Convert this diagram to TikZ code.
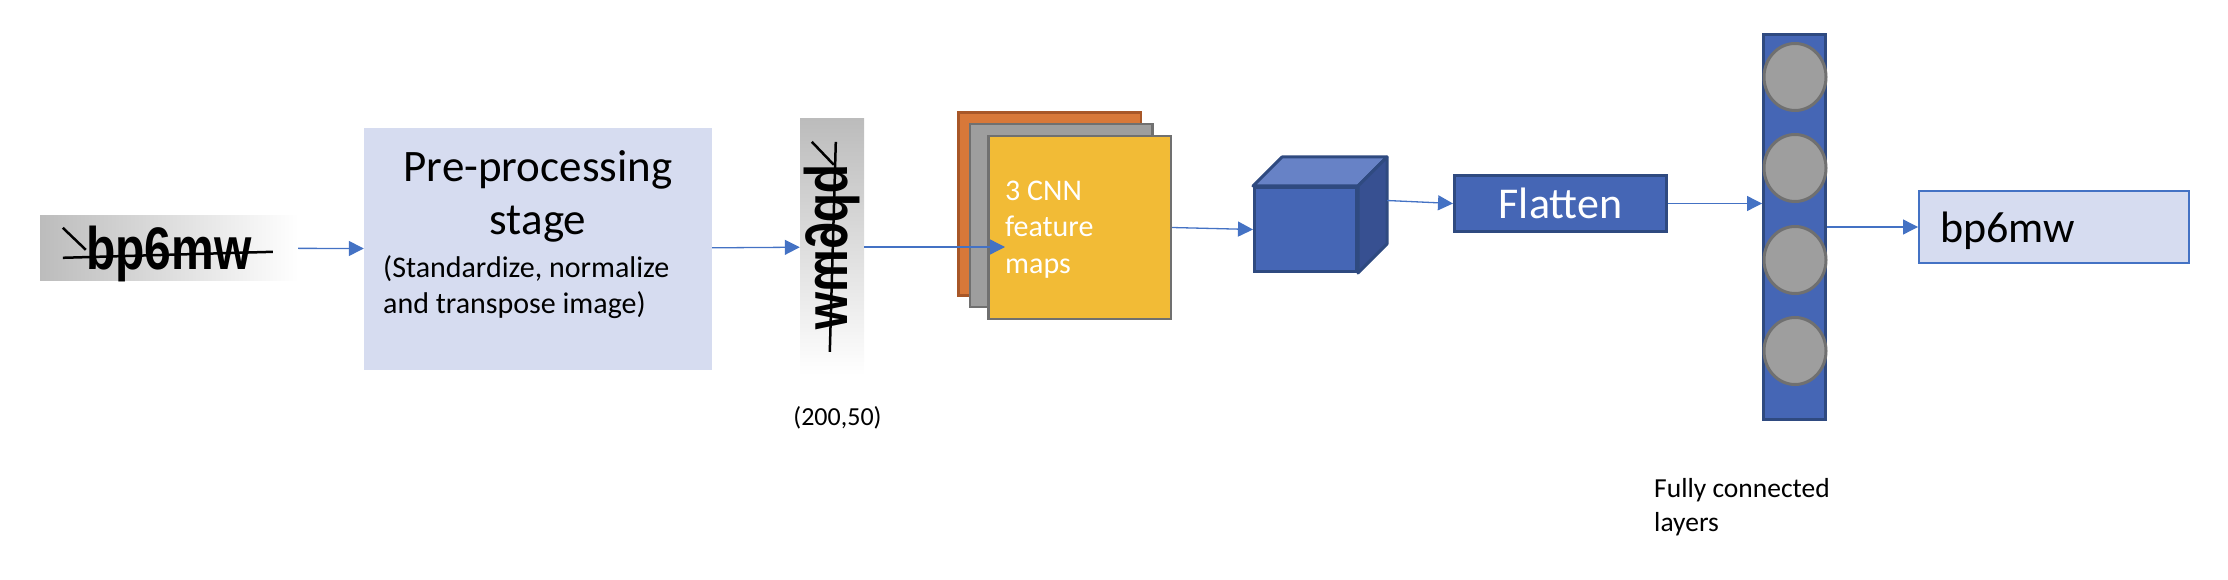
\documentclass[tikz,border=0pt]{standalone}
\usepackage{fontspec}
\setmainfont{Carlito}
\newfontfamily\captchafont{Liberation Sans}
\usepackage{tikz}
\usetikzlibrary{positioning}
\usetikzlibrary{arrows.meta}
\usetikzlibrary{shapes.geometric}
\definecolor{stagefill}{RGB}{214,220,240}
\definecolor{flowblue}{RGB}{68,114,196}
\definecolor{layerblue}{RGB}{69,102,181}
\definecolor{layeredge}{RGB}{47,74,128}
\definecolor{cubetop}{RGB}{103,130,198}
\definecolor{cubeside}{RGB}{55,80,145}
\definecolor{maporange}{RGB}{216,120,57}
\definecolor{maporangeedge}{RGB}{168,87,40}
\definecolor{mapgray}{RGB}{158,158,158}
\definecolor{mapgrayedge}{RGB}{112,112,112}
\definecolor{mapyellow}{RGB}{242,187,54}
\definecolor{captchagray}{RGB}{188,188,188}
\newcommand\captchaword{\captchafont\bfseries\fontsize{60}{60}\selectfont\scalebox{0.8}[1]{bp6mw}}
\tikzset{
    % Filled triangle heads, as in the office drawing
    >={Triangle[length=15pt, width=15pt]},
%
    % Thin blue connector between two stages
    flow/.style={->, draw=flowblue, line width=1.3pt},
%
    % Plain text, placed by the baseline of its last line
    plain text/.style={inner sep=0, align=left},
%
    % The light lavender boxes
    stage fill/.style={fill=stagefill},
%
    % The grey to white captcha pictures
    captcha/.style={shade, inner sep=0},
    scratch/.style={draw=black, line width=2.5pt},
%
    % One square per feature map
    feature map/.style={draw, line width=2.5pt,
        minimum width=182.5pt, minimum height=182.5pt},
%
    % Dark blue solids: cube, flatten box, dense layer
    blue solid/.style={fill=layerblue, draw=layeredge, line width=3pt},
%
    % One neuron of the dense layer
    neuron/.style={ellipse, fill=mapgray, draw=mapgrayedge, line width=3pt,
        minimum width=62pt, minimum height=67pt, inner sep=0}}

\begin{document}
\begin{tikzpicture}[x=1pt, y=-1pt]

\useasboundingbox (0,0) rectangle (2228,580);

% Input picture and pre-processing

\node [captcha, left color=captchagray, right color=white, text depth=0pt,
    minimum width=258pt, minimum height=64pt] (captcha) at (169,248)
    {\captchaword};
\draw [scratch] ([shift={(23,42)}]captcha.north west)
    -- ([shift={(233,36)}]captcha.north west);
\draw [scratch] ([shift={(23,12)}]captcha.north west)
    -- ([shift={(46,34)}]captcha.north west);

\node [stage fill, minimum width=348pt, minimum height=242pt] (prep)
    at (538,249) {};
\node [plain text, align=center, anchor=base,
    font=\fontsize{45}{53}\selectfont] (preptitle) at (538,235)
    {Pre-processing\\stage};
\node [plain text, anchor=base west,
    font=\fontsize{30}{36}\selectfont] (prepnote) at (383,313)
    {(Standardize, normalize\\and transpose image)};

\node [captcha, top color=captchagray, bottom color=white,
    minimum width=64pt, minimum height=256pt] (transposed) at (832,247)
    {\reflectbox{\rotatebox{-90}{\captchaword}}};
\draw [scratch] ([shift={(36,23)}]transposed.north west)
    -- ([shift={(30,233)}]transposed.north west);
\draw [scratch] ([shift={(12,23)}]transposed.north west)
    -- ([shift={(34,46)}]transposed.north west);
\node [plain text, anchor=base, font=\fontsize{26}{31}\selectfont] (shape)
    at (837.5,425) {(200,50)};

% Convolution stack

\node [feature map, fill=maporange, draw=maporangeedge] (map1)
    at (1049.5,204) {};
\node [feature map, fill=mapgray, draw=mapgrayedge] (map2)
    at (1061,215.5) {};
\node [feature map, fill=mapyellow, draw=mapgrayedge] (map3)
    at (1079.5,227.5) {};
\node [plain text, anchor=base west, text=white,
    font=\fontsize{30}{36.5}\selectfont] (cnn) at (1005,273)
    {3 CNN\\feature\\maps};

% Cube, drawn as a front face with two faces behind it
\node [blue solid, minimum width=102pt, minimum height=84pt] (cube)
    at (1305.5,229.5) {};
\filldraw [blue solid, fill=cubetop, line join=round]
    (cube.north west) -- ([shift={(29,-29)}]cube.north west)
    -- ([shift={(29,-29)}]cube.north east) -- (cube.north east) -- cycle;
\filldraw [blue solid, fill=cubeside, line join=round]
    (cube.north east) -- ([shift={(29,-29)}]cube.north east)
    -- ([shift={(29,-29)}]cube.south east) -- (cube.south east) -- cycle;
\coordinate (cubeback) at ([shift={(29,-29)}]cube.east);

\node [blue solid, minimum width=212pt, minimum height=56pt, text=white,
    text depth=0pt, font=\fontsize{44}{52}\selectfont] (flatten)
    at (1560.5,203.5) {Flatten};

% Dense layer

\node [blue solid, minimum width=62pt, minimum height=385pt] (fc)
    at (1794.5,227) {};
\foreach \i/\y in {1/77, 2/168, 3/260, 4/351}
    \node [neuron] (n\i) at (1795,\y) {};
\node [plain text, anchor=base west, font=\fontsize{27.5}{34}\selectfont]
    (fclabel) at (1654,531) {Fully connected\\layers};

\node [stage fill, draw=flowblue, line width=2pt, minimum width=270pt,
    minimum height=72pt, text width=228pt, inner xsep=21pt, align=left,
    text depth=0pt, font=\fontsize{44}{52}\selectfont] (out)
    at (2054,227) {bp6mw};

% Connectors

\draw [flow] (captcha) -- (prep);
\draw [flow] (prep) -- (transposed);
\draw [flow] (transposed.east) -- (transposed.east -| cnn.west);
\draw [flow] (map3.east) -- (cube.west);
\draw [flow] (cubeback) -- (flatten.west);
\draw [flow] (flatten.east) -- (flatten.east -| fc.west);
\draw [flow] (fc.east) -- (out.west);

\end{tikzpicture}
\end{document}
